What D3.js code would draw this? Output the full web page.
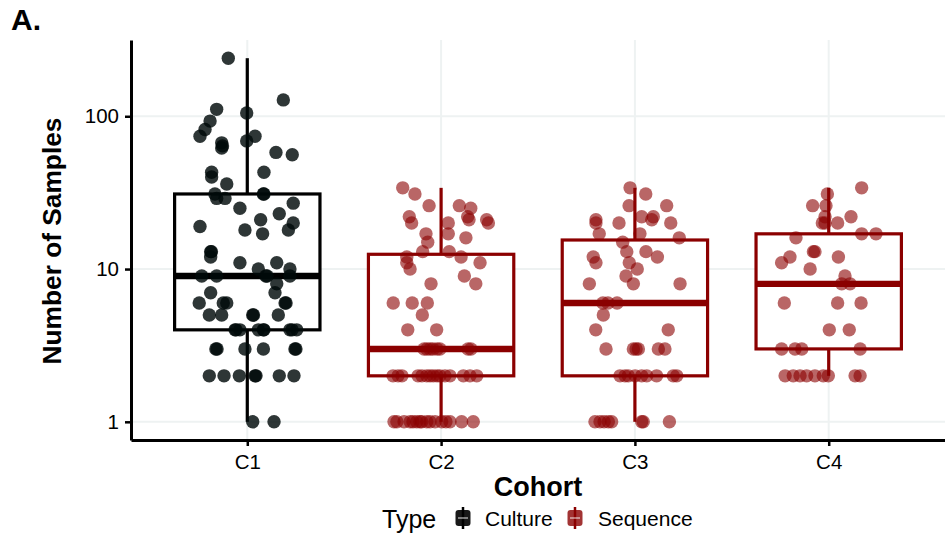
<!DOCTYPE html>
<html><head><meta charset="utf-8">
<script src="https://cdn.jsdelivr.net/npm/d3@7"></script>
<style>
html,body{margin:0;padding:0;background:#fff;}
svg{display:block;font-family:"Liberation Sans",Arial,Helvetica,sans-serif;}
</style></head>
<body>
<svg id="chart" width="945" height="543"></svg>
<script>
// ---------- data ----------
const categories = ["C1", "C2", "C3", "C4"];
const cohortType = ["Culture", "Sequence", "Sequence", "Sequence"];
const legendTypes = ["Culture", "Sequence"];
const yTicks = [1, 10, 100];

const c1Values = [240,128,111,105,93,82,74,74,67,64,62,69,58,56,43,43,40,36,31,29,29,31,31,27,25,23,21,19,18,17,20,18,
  13,13,12,11,10,11,10,9,9,9,9,8,7,9,7,6,6,6,6,6,5,5,5,5,5,4,4,4,4,4,4,4,4,4,
  3,3,3,3,3,3,2,2,2,2,2,2,2,1,1];
const c1Jitter = [-0.098,0.186,-0.158,-0.003,-0.192,-0.218,-0.244,0.040,-0.132,-0.128,-0.132,-0.003,0.148,0.232,0.086,-0.184,-0.184,-0.106,-0.167,-0.158,-0.115,0.083,0.086,0.237,-0.038,0.165,0.069,-0.244,-0.012,0.079,0.237,0.212,
  -0.189,-0.185,-0.189,-0.038,0.057,0.152,0.220,-0.235,-0.158,0.096,0.102,0.152,0.143,0.220,-0.189,
  -0.248,-0.106,-0.124,0.195,0.200,
  -0.196,-0.132,0.028,0.032,0.160,
  -0.063,-0.058,-0.038,0.057,0.083,0.086,0.220,0.255,0.231,
  -0.162,-0.156,-0.012,0.083,0.246,0.251,
  -0.196,-0.120,-0.041,0.040,0.045,0.165,0.241,
  0.028,0.138];

const c2Values = [34,31,26,26,25,22,22,21,21,20,20,20,17,17,16,15,13,13,12,12,11,11,10,9,8,8,6,6,6,5,4,4,
  3,3,3,3,3,3,3,3,
  2,2,2,2,2,2,2,2,2,2,2,2,2,2,2,
  1,1,1,1,1,1,1,1,1,1,1,1,1,1,1,1];
const c2Jitter = [-0.198,-0.135,-0.062,0.094,0.153,-0.164,0.137,0.144,0.235,-0.152,0.037,0.244,-0.078,0.037,0.128,-0.069,-0.095,0.042,-0.177,0.103,-0.177,0.201,-0.160,0.120,0.179,-0.052,-0.247,-0.149,-0.071,-0.097,-0.172,-0.023,
  -0.088,-0.073,-0.057,-0.042,-0.021,-0.006,0.139,0.154,
  -0.248,-0.222,-0.202,-0.119,-0.099,-0.074,-0.057,-0.040,-0.021,-0.006,0.020,0.046,0.115,0.149,0.184,
  -0.243,-0.228,-0.191,-0.160,-0.145,-0.126,-0.109,-0.100,-0.074,-0.057,-0.031,0.003,0.025,0.046,0.106,0.166];

const c3Values = [34,31,26,26,22,22,21,21,20,20,20,17,17,16,15,13,13,12,12,11,11,10,9,8,8,8,
  6,6,6,5,4,4,3,3,3,3,3,3,
  2,2,2,2,2,2,2,2,2,
  1,1,1,1,1,1,1,1];
const c3Jitter = [-0.025,0.056,-0.030,0.164,0.035,0.095,-0.201,0.087,-0.201,-0.082,0.185,-0.184,0.026,0.229,-0.063,-0.042,0.057,-0.215,0.116,-0.201,-0.029,0.012,-0.046,-0.008,-0.235,0.233,
  -0.165,-0.139,-0.092,-0.163,-0.202,0.172,-0.149,-0.008,0.006,0.018,0.121,0.155,
  -0.077,-0.051,-0.034,0.001,0.035,0.061,0.112,0.198,0.216,
  -0.206,-0.180,-0.159,-0.137,-0.120,0.035,0.043,0.178];

const c4Values = [34,31,26,26,22,22,20,20,20,17,17,16,13,13,12,12,11,10,9,8,8,6,6,6,4,4,3,3,3,3,2,2,2,2,2,2,2,2,2];
const c4Jitter = [0.170,-0.007,-0.083,-0.014,0.115,-0.019,-0.019,0.046,-0.033,0.170,0.244,-0.169,-0.079,-0.071,-0.200,0.050,-0.243,-0.096,0.084,0.067,0.110,-0.229,0.046,0.167,0.003,0.106,-0.243,-0.174,-0.139,0.162,-0.225,-0.183,-0.148,-0.114,-0.071,-0.028,-0.002,0.136,0.162];

const cohortValues = [c1Values, c2Values, c3Values, c4Values];
const cohortJitter = [c1Jitter, c2Jitter, c3Jitter, c4Jitter];

// ---------- styles ----------
const typeColor = {Culture: "#000000", Sequence: "#8B0000"};
const pointFill = {Culture: "#000a0a", Sequence: "#8B0000"};
const pointOpacity = {Culture: 0.82, Sequence: 0.6};
const gridColor = "#eef2f2";

const panel = {left: 131, right: 945, top: 40, bottom: 440};
const svg = d3.select("#chart");

// ---------- scales ----------
const x = d3.scalePoint().domain(categories).range([panel.left, panel.right]).padding(0.6);
const allLog = cohortValues.flat().map(v => Math.log10(v));
const lo = d3.min(allLog), hi = d3.max(allLog), pad = (hi - lo) * 0.05;
const y = d3.scaleLog().domain([Math.pow(10, lo - pad), Math.pow(10, hi + pad)]).range([panel.bottom, panel.top]);

// ---------- grid ----------
const grid = svg.append("g");
grid.selectAll("line.h").data(yTicks).join("line")
  .attr("x1", panel.left).attr("x2", panel.right)
  .attr("y1", d => y(d)).attr("y2", d => y(d))
  .attr("stroke", gridColor).attr("stroke-width", 2);
grid.selectAll("line.v").data(categories).join("line")
  .attr("x1", d => x(d)).attr("x2", d => x(d))
  .attr("y1", panel.top).attr("y2", panel.bottom)
  .attr("stroke", gridColor).attr("stroke-width", 2);

// ---------- boxplots ----------
const boxHalf = x.step() * 0.375;
const stats = cohortValues.map((vals, i) => {
  const lv = vals.map(v => Math.log10(v)).sort(d3.ascending);
  const q1 = d3.quantile(lv, 0.25), med = d3.quantile(lv, 0.5), q3 = d3.quantile(lv, 0.75);
  const iqr = q3 - q1;
  const lowW = d3.min(lv.filter(v => v >= q1 - 1.5 * iqr));
  const highW = d3.max(lv.filter(v => v <= q3 + 1.5 * iqr));
  const p = v => Math.pow(10, v);
  return {cat: categories[i], type: cohortType[i], q1: p(q1), med: p(med), q3: p(q3), lo: p(lowW), hi: p(highW)};
});

const boxes = svg.append("g").selectAll("g").data(stats).join("g");
boxes.append("line")
  .attr("x1", d => x(d.cat)).attr("x2", d => x(d.cat))
  .attr("y1", d => y(d.q3)).attr("y2", d => y(d.hi))
  .attr("stroke", d => typeColor[d.type]).attr("stroke-width", 3.2);
boxes.append("line")
  .attr("x1", d => x(d.cat)).attr("x2", d => x(d.cat))
  .attr("y1", d => y(d.q1)).attr("y2", d => y(d.lo))
  .attr("stroke", d => typeColor[d.type]).attr("stroke-width", 3.2);
boxes.append("rect")
  .attr("x", d => x(d.cat) - boxHalf).attr("width", boxHalf * 2)
  .attr("y", d => y(d.q3)).attr("height", d => y(d.q1) - y(d.q3))
  .attr("fill", "#fff").attr("stroke", d => typeColor[d.type]).attr("stroke-width", 3.2);
boxes.append("line")
  .attr("x1", d => x(d.cat) - boxHalf).attr("x2", d => x(d.cat) + boxHalf)
  .attr("y1", d => y(d.med)).attr("y2", d => y(d.med))
  .attr("stroke", d => typeColor[d.type]).attr("stroke-width", 6.4);

// ---------- points ----------
const points = [];
cohortValues.forEach((vals, i) => vals.forEach((v, k) => points.push({cat: categories[i], type: cohortType[i], v, j: cohortJitter[i][k]})));
svg.append("g").selectAll("circle").data(points).join("circle")
  .attr("cx", d => x(d.cat) + d.j * x.step())
  .attr("cy", d => y(d.v))
  .attr("r", 6.7)
  .attr("fill", d => pointFill[d.type])
  .attr("fill-opacity", d => pointOpacity[d.type]);

// ---------- axes ----------
const yAxis = svg.append("g").attr("transform", `translate(${panel.left},0)`)
  .call(d3.axisLeft(y).tickValues(yTicks).tickFormat(d3.format("d")).tickSize(6).tickSizeOuter(0).tickPadding(6));
const xAxis = svg.append("g").attr("transform", `translate(0,${panel.bottom})`)
  .call(d3.axisBottom(x).tickSize(6).tickSizeOuter(0).tickPadding(8));
[yAxis, xAxis].forEach(a => {
  a.select(".domain").attr("stroke", "#000").attr("stroke-width", 3);
  a.selectAll(".tick line").attr("stroke", "#000").attr("stroke-width", 2.5);
  a.selectAll(".tick text").attr("fill", "#000").style("font-size", "20.5px")
    .style("font-family", "'Liberation Sans', Arial, sans-serif");
});

// ---------- titles ----------
svg.append("text").attr("x", (panel.left + panel.right) / 2).attr("y", 496)
  .attr("text-anchor", "middle").style("font-size", "27px").style("font-weight", "bold").text("Cohort");
svg.append("text").attr("transform", `translate(61,${(panel.top + panel.bottom) / 2 + 1}) rotate(-90)`)
  .attr("text-anchor", "middle").style("font-size", "26.3px").style("font-weight", "bold").text("Number of Samples");
svg.append("text").attr("x", 11).attr("y", 30)
  .style("font-size", "30px").style("font-weight", "bold").text("A.");

// ---------- legend ----------
const leg = svg.append("g");
leg.append("text").attr("x", 382).attr("y", 528).style("font-size", "25px").text("Type");
const keyX = {Culture: 463, Sequence: 575};
const labX = {Culture: 485, Sequence: 598};
legendTypes.forEach(t => {
  const g = leg.append("g");
  const cx = keyX[t], cy = 518;
  g.append("line").attr("x1", cx).attr("x2", cx).attr("y1", cy - 11).attr("y2", cy + 11)
    .attr("stroke", typeColor[t]).attr("stroke-width", 2.5);
  g.append("rect").attr("x", cx - 7.5).attr("y", cy - 8).attr("width", 15).attr("height", 16).attr("rx", 3)
    .attr("fill", typeColor[t]).attr("fill-opacity", t === "Culture" ? 0.9 : 0.8);
  g.append("line").attr("x1", cx - 5).attr("x2", cx + 5).attr("y1", cy).attr("y2", cy)
    .attr("stroke", "#fff").attr("stroke-opacity", 0.45).attr("stroke-width", 2);
  g.append("text").attr("x", labX[t]).attr("y", 526).style("font-size", "21px").text(t);
});
</script>
</body></html>
